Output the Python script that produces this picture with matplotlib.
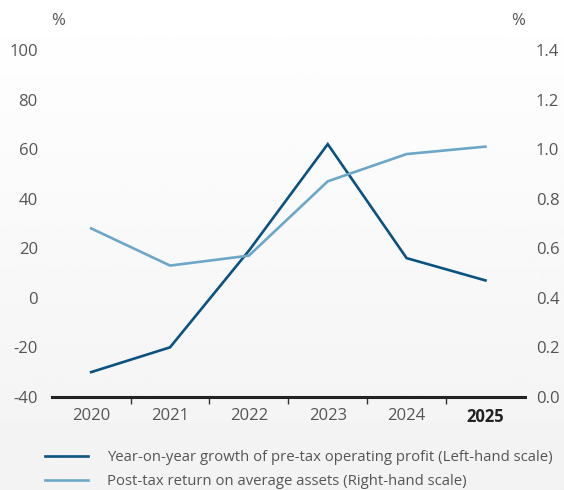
import numpy as np
import matplotlib.pyplot as plt
from matplotlib.lines import Line2D

plt.rcParams['font.family'] = ['Open Sans', 'DejaVu Sans']
plt.rcParams['axes.unicode_minus'] = False

years = ['2020', '2021', '2022', '2023', '2024', '2025']
profit_growth = [-30, -20, 19, 62, 16, 7]          # left scale, %
return_on_assets = [0.68, 0.53, 0.57, 0.87, 0.98, 1.01]  # right scale, %

dark_blue = '#0a5282'
light_blue = '#6ba7c9'
text_grey = '#555555'

fig = plt.figure(figsize=(5.64, 4.90), dpi=100)

# soft white-to-grey background behind everything
bg = fig.add_axes([0, 0, 1, 1], zorder=-10)
grad = np.linspace(1.0, 0.95, 256).reshape(-1, 1)
bg.imshow(grad, aspect='auto', cmap='gray', vmin=0, vmax=1, extent=[0, 1, 0, 1])
bg.axis('off')

ax = fig.add_axes([0.0917, 0.19, 0.839, 0.708])
ax.set_facecolor('none')
ax2 = ax.twinx()

x = np.arange(len(years))
ax.plot(x, profit_growth, color=dark_blue, lw=1.9, solid_joinstyle='miter', zorder=3)
ax2.plot(x, return_on_assets, color=light_blue, lw=1.9, solid_joinstyle='miter', zorder=2)

ax.set_xlim(-0.5, 5.5)
ax.set_ylim(-40, 100)
ax2.set_ylim(0, 1.4)
ax.set_yticks(range(-40, 101, 20))
ax2.set_yticks(np.arange(0, 1.41, 0.2))
ax2.set_yticklabels([f'{v:.1f}' for v in np.arange(0, 1.41, 0.2)])

for a in (ax, ax2):
    for s in ('left', 'right', 'top', 'bottom'):
        a.spines[s].set_visible(False)
ax.spines['bottom'].set_visible(True)
ax.spines['bottom'].set_color('#222222')
ax.spines['bottom'].set_linewidth(2.2)

ax.tick_params(axis='y', length=0, pad=10, labelsize=12, labelcolor=text_grey)
ax2.tick_params(axis='y', length=0, pad=8, labelsize=12, labelcolor=text_grey)

# year labels centred on points, tick marks on the boundaries between years
ax.set_xticks(x)
ax.set_xticklabels(years)
ax.tick_params(axis='x', which='major', length=0, pad=8, labelsize=12, labelcolor=text_grey)
ax.set_xticks(x[:-1] + 0.5, minor=True)
ax.tick_params(axis='x', which='minor', length=5, width=1, color='#333333')
last = ax.get_xticklabels()[-1]
last.set_fontweight('bold')
last.set_color('#222222')

fig.text(0.103, 0.958, '%', ha='center', va='center', fontsize=12, color=text_grey)
fig.text(0.918, 0.958, '%', ha='center', va='center', fontsize=12, color=text_grey)

handles = [
    Line2D([0], [0], color=dark_blue, lw=1.9),
    Line2D([0], [0], color=light_blue, lw=1.9),
]
labels = [
    'Year-on-year growth of pre-tax operating profit (Left-hand scale)',
    'Post-tax return on average assets (Right-hand scale)',
]
fig.legend(handles, labels, loc='upper left', bbox_to_anchor=(0.08, 0.082),
           bbox_transform=fig.transFigure, frameon=False, fontsize=10.7,
           labelcolor=text_grey, handlelength=2.9, handletextpad=1.25,
           labelspacing=0.6, borderaxespad=0, borderpad=0)

fig.savefig('out.png', dpi=100)
